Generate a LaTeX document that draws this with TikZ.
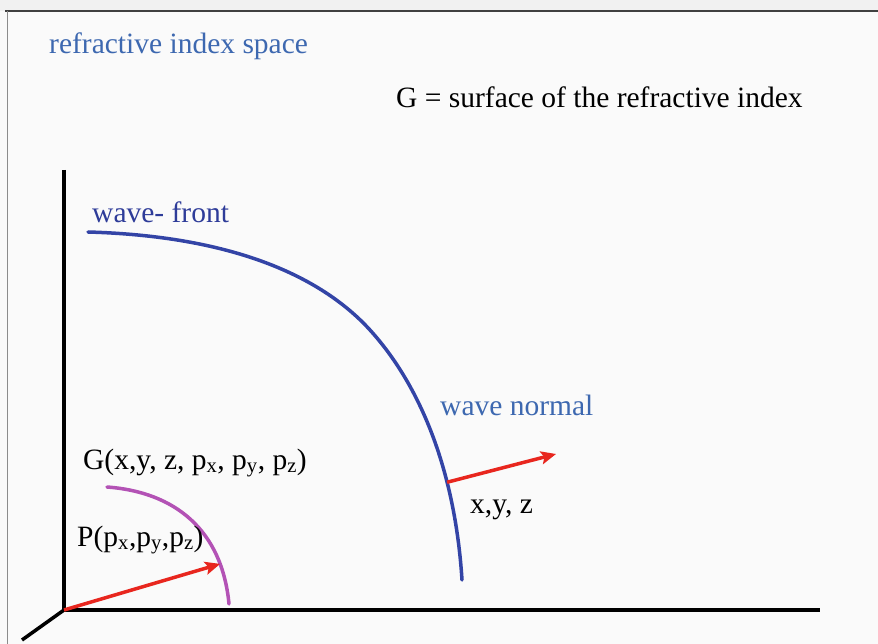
\documentclass[tikz,border=0pt]{standalone}
\usepackage{fontspec}
\setmainfont{Liberation Serif}
\usetikzlibrary{arrows.meta}
\definecolor{lblue}{HTML}{3D68B0}
\definecolor{dblue}{HTML}{2E3C99}
\definecolor{wfblue}{HTML}{3344A6}
\definecolor{arcpurple}{HTML}{B352B5}
\definecolor{arrred}{HTML}{E8261E}
\definecolor{topgray}{HTML}{F1F1F1}
\begin{document}
\begin{tikzpicture}[x=1pt,y=-1pt,
  lbl/.style={inner sep=0pt,anchor=base west,font=\fontsize{29.5}{34}\selectfont},
  axis/.style={line width=3.5pt,black},
  redarrow/.style={line width=3.5pt,arrred,-{Stealth[length=15pt,width=13pt,inset=3pt]}},
  curve/.style={line width=3.5pt,line cap=round}]
\useasboundingbox (0,0) rectangle (878,644);
\fill[topgray] (0,0) rectangle (878,11);
\fill[white!98!black] (0,11) rectangle (878,644);
\draw[line width=2pt,black!75] (5,11) -- (878,11);
\draw[line width=1pt,black!45] (7,11) -- (7,644);

% axes
\coordinate (O) at (64,610);
\coordinate (ytop) at (64,170);
\coordinate (xend) at (820,610);
\coordinate (zend) at (22,640);
\draw[axis] (ytop) -- (O) -- (xend);
\draw[axis] (O) -- (zend);

% wave front
\draw[curve,wfblue] (88,232) .. controls (230,236) and (320,275) .. (370,330)
  .. controls (420,385) and (455,470) .. (462,580) coordinate[pos=0.68] (wn);
\coordinate (wnend) at (556,454);

% purple arc
\draw[curve,arcpurple] (107,487) .. controls (175,492) and (222,530) .. (229,604)
  coordinate[pos=0.8] (P);

% red arrows
\draw[redarrow] (O) -- (P);
\draw[redarrow] (wn) -- (wnend);

% labels
\node[lbl,text=lblue] (ris) at (49,54) {refractive index space};
\node[lbl] (gdef) at (396,108) {G = surface of the refractive index};
\node[lbl,text=dblue] (wf) at (92,223) {wave- front};
\node[lbl,text=lblue] (wnl) at (440,415) {wave normal};
\node[lbl] (xyz) at (470,513) {x,y, z};
\node[lbl] (gfun) at (83,469) {G(x,y, z, p\textsubscript{x}, p\textsubscript{y}, p\textsubscript{z})};
\node[lbl] (pfun) at (77,546) {P(p\textsubscript{x},p\textsubscript{y},p\textsubscript{z})};
\end{tikzpicture}
\end{document}
